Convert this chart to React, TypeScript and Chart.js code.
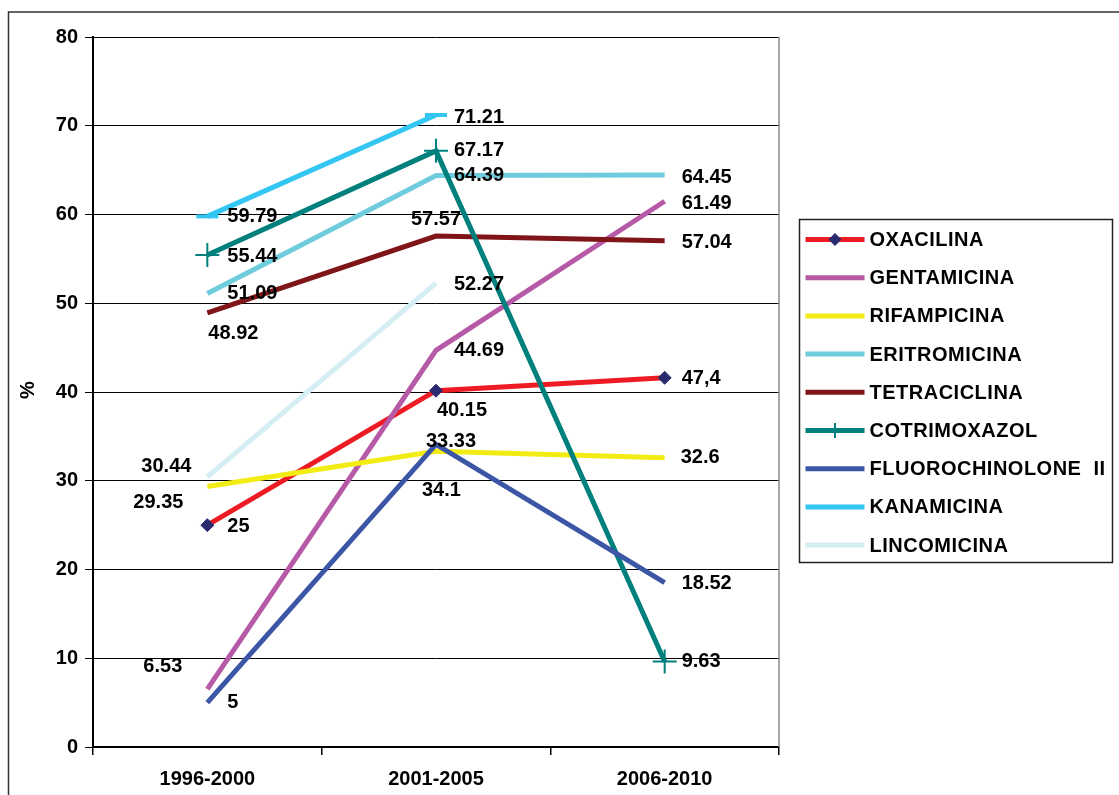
import React, { useEffect, useRef } from 'react';
import { Chart, registerables } from 'chart.js';

Chart.register(...registerables);

// ---------- DATA ----------
const categories = ['1996-2000', '2001-2005', '2006-2010'];

const seriesNames = [
  'OXACILINA',
  'GENTAMICINA',
  'RIFAMPICINA',
  'ERITROMICINA',
  'TETRACICLINA',
  'COTRIMOXAZOL',
  'FLUOROCHINOLONE  II',
  'KANAMICINA',
  'LINCOMICINA',
];

const oxacilina = [25, 40.15, 41.6];
const gentamicina = [6.53, 44.69, 61.49];
const rifampicina = [29.35, 33.33, 32.6];
const eritromicina = [51.09, 64.39, 64.45];
const tetraciclina = [48.92, 57.57, 57.04];
const cotrimoxazol = [55.44, 67.17, 9.63];
const fluorochinolone = [5, 34.1, 18.52];
const kanamicina = [59.79, 71.21, null];
const lincomicina = [30.44, 52.27, null];

// data label texts, as printed on the chart
const oxacilinaLabels = ['25', '40.15', '47,4'];
const gentamicinaLabels = ['6.53', '44.69', '61.49'];
const rifampicinaLabels = ['29.35', '33.33', '32.6'];
const eritromicinaLabels = ['51.09', '64.39', '64.45'];
const tetraciclinaLabels = ['48.92', '57.57', '57.04'];
const cotrimoxazolLabels = ['55.44', '67.17', '9.63'];
const fluorochinoloneLabels = ['5', '34.1', '18.52'];
const kanamicinaLabels = ['59.79', '71.21', null];
const lincomicinaLabels = ['30.44', '52.27', null];

const yMin = 0;
const yMax = 80;
const yStep = 10;

// ---------- STYLES ----------
const seriesValues = [
  oxacilina, gentamicina, rifampicina, eritromicina, tetraciclina,
  cotrimoxazol, fluorochinolone, kanamicina, lincomicina,
];
const seriesLabels = [
  oxacilinaLabels, gentamicinaLabels, rifampicinaLabels, eritromicinaLabels,
  tetraciclinaLabels, cotrimoxazolLabels, fluorochinoloneLabels,
  kanamicinaLabels, lincomicinaLabels,
];
const colors = [
  '#ED1C24', '#B659A6', '#F3EB14', '#6FCCDD', '#7F1518',
  '#00807D', '#3C56A6', '#33C6F2', '#D4EEF4',
];
const markerNavy = '#2A2B6E';

// label offsets (dx, dy) from each point, in pixels
const labelOffsets: ([number, number] | null)[][] = [
  [[20, 1], [1, 20], [17, 1]],
  [[-64, -23], [18, 0], [17, 2]],
  [[-74, 16], [-10, -10], [16, 0]],
  [[20, 0], [18, 0], [17, 2]],
  [[1, 21], [-25, -17], [17, 2]],
  [[20, 2], [18, 0], [17, 0]],
  [[20, 0], [-14, 46], [17, 1]],
  [[20, 0], [18, 2], null],
  [[-66, -10], [18, 1], null],
];

const FONT = '"Liberation Sans", Arial, Helvetica, sans-serif';

const framePlugin = {
  id: 'frame',
  beforeDraw(chart: any) {
    const ctx = chart.ctx;
    ctx.save();
    ctx.fillStyle = '#fff';
    ctx.fillRect(0, 0, chart.width, chart.height);
    ctx.strokeStyle = '#333';
    ctx.lineWidth = 1.5;
    ctx.beginPath();
    ctx.moveTo(8.5, chart.height + 5);
    ctx.lineTo(8.5, 12);
    ctx.lineTo(chart.width + 5, 12);
    ctx.stroke();
    ctx.restore();
  },
  beforeDatasetsDraw(chart: any) {
    const { ctx, chartArea } = chart;
    ctx.save();
    ctx.strokeStyle = '#8a8a8a';
    ctx.lineWidth = 1.5;
    ctx.beginPath();
    ctx.moveTo(chartArea.right, chartArea.top);
    ctx.lineTo(chartArea.right, chartArea.bottom);
    ctx.stroke();
    ctx.restore();
  },
};

const labelsPlugin = {
  id: 'pointLabels',
  afterDatasetsDraw(chart: any) {
    const ctx = chart.ctx;
    ctx.save();
    ctx.font = `bold 20px ${FONT}`;
    ctx.fillStyle = '#000';
    ctx.textAlign = 'left';
    ctx.textBaseline = 'middle';
    seriesLabels.forEach((labels, i) => {
      const meta = chart.getDatasetMeta(i);
      labels.forEach((txt, j) => {
        const off = labelOffsets[i][j];
        const el = meta.data[j];
        if (!txt || !off || !el) return;
        ctx.fillText(txt, el.x + off[0], el.y + off[1]);
      });
    });
    // y axis title
    ctx.translate(28, 390);
    ctx.rotate(-Math.PI / 2);
    ctx.textAlign = 'center';
    ctx.fillText('%', 0, 0);
    ctx.restore();
  },
};

const legendPlugin = {
  id: 'customLegend',
  afterDraw(chart: any) {
    const ctx = chart.ctx;
    const bx = chart.chartArea.right + 20.5;
    const by = 219.5;
    const bw = 313;
    const bh = 343;
    ctx.save();
    ctx.strokeStyle = '#222';
    ctx.lineWidth = 1.5;
    ctx.strokeRect(bx, by, bw, bh);
    ctx.font = `bold 20px ${FONT}`;
    (ctx as any).letterSpacing = '0.5px';
    ctx.textAlign = 'left';
    ctx.textBaseline = 'middle';
    seriesNames.forEach((name, i) => {
      const cy = by + 20 + i * 38.2;
      const x0 = bx + 6;
      const x1 = bx + 65;
      ctx.strokeStyle = colors[i];
      ctx.lineWidth = 5;
      ctx.beginPath();
      ctx.moveTo(x0, cy);
      ctx.lineTo(x1, cy);
      ctx.stroke();
      const mx = (x0 + x1) / 2;
      if (i === 0) {
        ctx.fillStyle = markerNavy;
        ctx.beginPath();
        ctx.moveTo(mx, cy - 6.5);
        ctx.lineTo(mx + 6.5, cy);
        ctx.lineTo(mx, cy + 6.5);
        ctx.lineTo(mx - 6.5, cy);
        ctx.closePath();
        ctx.fill();
      }
      if (i === 5) {
        ctx.strokeStyle = colors[5];
        ctx.lineWidth = 2;
        ctx.beginPath();
        ctx.moveTo(mx, cy - 7.5);
        ctx.lineTo(mx, cy + 7.5);
        ctx.stroke();
      }
      ctx.fillStyle = '#000';
      ctx.fillText(name, x1 + 5, cy + 1);
    });
    ctx.restore();
  },
};

export default function App() {
  const canvasRef = useRef<HTMLCanvasElement | null>(null);

  useEffect(() => {
    if (!canvasRef.current) return;
    const n = seriesNames.length;
    const datasets = seriesNames.map((name, i) => {
      const base: any = {
        label: name,
        data: seriesValues[i],
        borderColor: colors[i],
        backgroundColor: colors[i],
        borderWidth: 5,
        tension: 0,
        pointRadius: 0,
        order: n - i,
        clip: false,
      };
      if (i === 0) {
        base.pointStyle = 'rectRot';
        base.pointRadius = 6.5;
        base.pointBackgroundColor = markerNavy;
        base.pointBorderColor = markerNavy;
        base.pointBorderWidth = 1;
      } else if (i === 5) {
        base.pointStyle = 'cross';
        base.pointRadius = 12;
        base.pointBorderWidth = 2;
        base.pointBorderColor = colors[5];
      } else if (i === 7) {
        base.pointStyle = 'line';
        base.pointRadius = 11;
        base.pointBorderWidth = 4;
        base.pointBorderColor = colors[7];
      }
      return base;
    });

    const chart = new Chart(canvasRef.current, {
      type: 'line',
      data: { labels: categories, datasets },
      options: {
        animation: false,
        responsive: false,
        devicePixelRatio: 1,
        layout: { padding: { left: 0, top: 37, right: 340, bottom: 0 } },
        plugins: {
          legend: { display: false },
          tooltip: { enabled: false },
        },
        scales: {
          x: {
            offset: true,
            grid: {
              offset: true,
              drawOnChartArea: false,
              drawTicks: true,
              tickLength: 8,
              color: '#000',
              lineWidth: 1.5,
            },
            border: { color: '#000', width: 2 },
            ticks: {
              color: '#000',
              font: { family: FONT, size: 20, weight: 'bold' },
              padding: 12,
              maxRotation: 0,
            },
            afterFit(scale: any) {
              scale.height = 48;
            },
          },
          y: {
            min: yMin,
            max: yMax,
            grid: {
              color: '#000',
              lineWidth: 1,
              tickLength: 8,
              tickColor: '#000',
            },
            border: { color: '#000', width: 2 },
            ticks: {
              stepSize: yStep,
              color: '#000',
              font: { family: FONT, size: 20, weight: 'bold' },
              padding: 7,
            },
            afterFit(scale: any) {
              scale.width = 93;
            },
          },
        },
      },
      plugins: [framePlugin, labelsPlugin, legendPlugin],
    });
    return () => chart.destroy();
  }, []);

  return (
    <div style={{ position: 'fixed', left: 0, top: 0, width: 1119, height: 795, background: '#fff' }}>
      <canvas ref={canvasRef} width={1119} height={795} style={{ display: 'block', width: 1119, height: 795 }} />
    </div>
  );
}
